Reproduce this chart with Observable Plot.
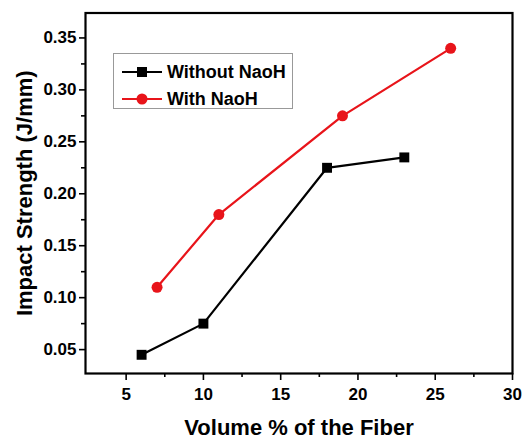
<!DOCTYPE html>
<html>
<head>
<meta charset="utf-8">
<script src="https://cdn.jsdelivr.net/npm/d3@7"></script>
<script src="https://cdn.jsdelivr.net/npm/@observablehq/plot@0.6"></script>
<style>
  html, body { margin: 0; padding: 0; background: #fff; }
  #wrap { position: relative; width: 523px; height: 439px; font-family: "Liberation Sans", Arial, sans-serif; }
  #legend { position: absolute; left: 113px; top: 53px; width: 180px; height: 56px; border: 1px solid #999; box-sizing: border-box; background: #fff; }
  #legend .row { position: absolute; left: 0; height: 20px; display: flex; align-items: center; font-weight: bold; font-size: 18px; color: #000; }
  #legend svg { margin-left: 8px; margin-right: 5px; }
</style>
</head>
<body>
<div id="wrap"><div id="chart"></div><div id="legend"></div></div>
<script>
const volumeWithout = [6, 10, 18, 23];
const strengthWithout = [0.045, 0.075, 0.225, 0.235];
const volumeWith = [7, 11, 19, 26];
const strengthWith = [0.11, 0.18, 0.275, 0.34];
const seriesNames = ["Without NaoH", "With NaoH"];
const seriesColors = ["#000000", "#e8141a"];
const xTicks = [5, 10, 15, 20, 25, 30];
const xMinor = [7.5, 12.5, 17.5, 22.5, 27.5];
const yTicks = [0.05, 0.10, 0.15, 0.20, 0.25, 0.30, 0.35];
const yMinor = [0.075, 0.125, 0.175, 0.225, 0.275, 0.325];

const without = volumeWithout.map((v, i) => ({x: v, y: strengthWithout[i]}));
const withN = volumeWith.map((v, i) => ({x: v, y: strengthWith[i]}));

const chart = Plot.plot({
  width: 523,
  height: 439,
  marginLeft: 85,
  marginRight: 11,
  marginTop: 12.5,
  marginBottom: 66,
  style: {fontFamily: "'Liberation Sans', Arial, sans-serif", fontWeight: "bold", background: "#fff", color: "#000"},
  x: {domain: [2.37, 30]},
  y: {domain: [0.027, 0.374]},
  marks: [
    Plot.frame({stroke: "#000", strokeWidth: 2.2}),
    Plot.axisX({ticks: xTicks, tickSize: 7, strokeWidth: 1.6, fontSize: 17, tickPadding: 7,
      label: "Volume % of the Fiber", labelAnchor: "center", labelArrow: "none", labelOffset: 61}),
    Plot.axisX({ticks: xMinor, tickSize: 4, strokeWidth: 1.6, tickFormat: () => "", label: null}),
    Plot.axisY({ticks: yTicks, tickSize: 6, strokeWidth: 1.6, fontSize: 17, tickPadding: 3, tickFormat: d3.format(".2f"),
      label: "Impact Strength (J/mm)", labelAnchor: "center", labelArrow: "none", labelOffset: 69}),
    Plot.axisY({ticks: yMinor, tickSize: 4, strokeWidth: 1.6, tickFormat: () => "", label: null}),
    Plot.line(without, {x: "x", y: "y", stroke: seriesColors[0], strokeWidth: 2.2}),
    Plot.dot(without, {x: "x", y: "y", symbol: "square", r: 5.6, fill: seriesColors[0]}),
    Plot.line(withN, {x: "x", y: "y", stroke: seriesColors[1], strokeWidth: 2.2}),
    Plot.dot(withN, {x: "x", y: "y", symbol: "circle", r: 5.5, fill: seriesColors[1]})
  ]
});
d3.select(chart).selectAll("g[aria-label='x-axis label'] text, g[aria-label='y-axis label'] text")
  .style("font-size", "22px");
document.getElementById("chart").appendChild(chart);

const legend = document.getElementById("legend");
seriesNames.forEach((name, i) => {
  const row = document.createElement("div");
  row.className = "row";
  row.style.top = (i === 0 ? 8 : 35) + "px";
  const sym = i === 0
    ? '<rect x="15" y="5" width="10" height="10" fill="' + seriesColors[i] + '"/>'
    : '<circle cx="20" cy="10" r="5.5" fill="' + seriesColors[i] + '"/>';
  row.innerHTML = '<svg width="40" height="20"><line x1="0" x2="40" y1="10" y2="10" stroke="' + seriesColors[i] + '" stroke-width="2.2"/>' + sym + '</svg><span>' + name + '</span>';
  legend.appendChild(row);
});
</script>
</body>
</html>
